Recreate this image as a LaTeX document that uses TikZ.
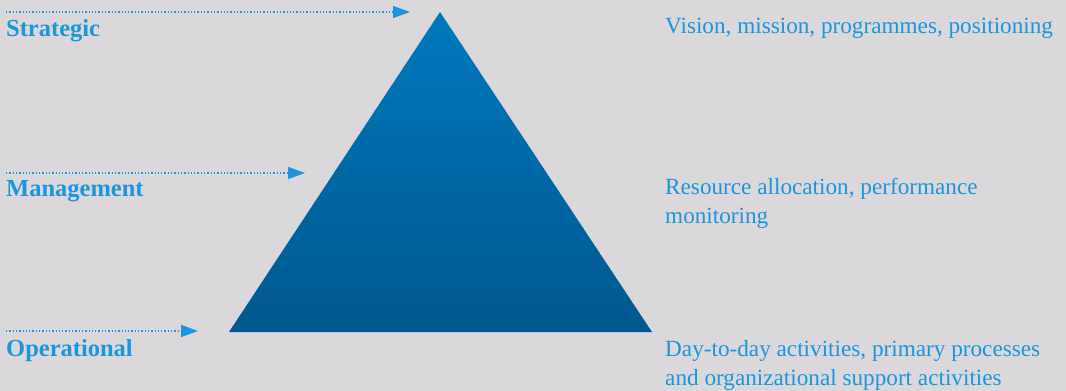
\documentclass[tikz,border=0pt]{standalone}
\usepackage{fontspec}
\setmainfont{Liberation Serif}
\usetikzlibrary{arrows.meta}
\definecolor{bg}{RGB}{218,216,219}
\definecolor{txtblue}{RGB}{27,150,222}
\definecolor{tritop}{RGB}{0,120,190}
\definecolor{tribot}{RGB}{0,88,142}
\begin{document}
\begin{tikzpicture}[x=1pt,y=-1pt,
  level/.style={anchor=base west,inner sep=0pt,text=txtblue,font=\fontsize{24.5}{24.5}\selectfont\bfseries},
  desc/.style={anchor=base west,inner sep=0pt,text=txtblue,font=\fontsize{23.2}{29}\selectfont,align=left},
  pointer/.style={txtblue,line width=1.3pt,dotted,-{Triangle[length=17pt,width=12pt]}}]
\fill[bg] (0,0) rectangle (1066,391);
\useasboundingbox (0,0) rectangle (1066,391);
\shade[top color=tritop,bottom color=tribot] (440,12) -- (652,332) -- (229,332) -- cycle;
\coordinate (apex) at (440,12);
\node[level] (strat) at (6,36) {Strategic};
\node[level] (mgmt) at (6,196) {Management};
\node[level] (oper) at (6,356) {Operational};
\coordinate (s0) at (6,12); \coordinate (s1) at (410,12);
\coordinate (m0) at (6,173); \coordinate (m1) at (305,173);
\coordinate (o0) at (6,331); \coordinate (o1) at (198,331);
\draw[pointer] (s0) -- (s1);
\draw[pointer] (m0) -- (m1);
\draw[pointer] (o0) -- (o1);
\node[desc] (d1) at (665,33) {Vision, mission, programmes, positioning};
\node[desc] (d2) at (665,223) {Resource allocation, performance\\monitoring};
\node[desc] (d3) at (665,385) {Day-to-day activities, primary processes\\and organizational support activities};
\end{tikzpicture}
\end{document}
